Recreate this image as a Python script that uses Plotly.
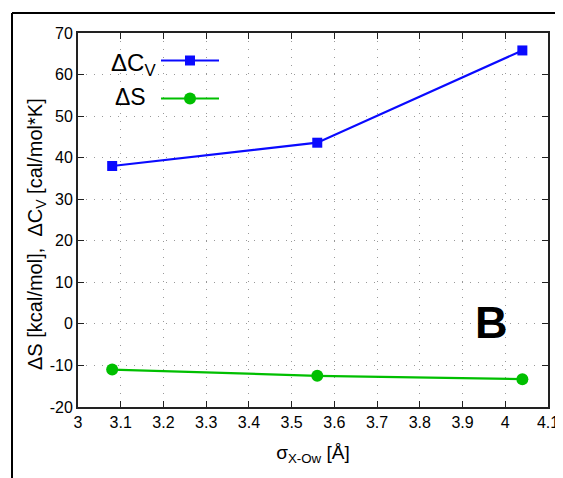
import plotly.graph_objects as go

sigma = [3.08, 3.56, 4.04]
dCv = [38.0, 43.6, 65.8]
dS = [-11.0, -12.5, -13.3]
x_ticks = [3, 3.1, 3.2, 3.3, 3.4, 3.5, 3.6, 3.7, 3.8, 3.9, 4, 4.1]
y_ticks = [-20, -10, 0, 10, 20, 30, 40, 50, 60, 70]

BLUE = "#0a0aff"
GREEN = "#00bf00"
FONT = "Liberation Sans, Arial, sans-serif"

# page offset caused by default body margin
OFF = 8
W, H = 555, 470
# plot area in page pixels: x 78..548, y 33..407
ML = 78 - OFF
MT = 33 - OFF
MR = W - (548 - OFF)
MB = H - (407 - OFF)
PW, PH = W - ML - MR, H - MT - MB

def px(x):
    return (x - OFF - ML) / PW

def py(y):
    return (H - MB - (y - OFF)) / PH

fig = go.Figure()
fig.add_trace(go.Scatter(x=sigma, y=dCv, mode="lines+markers", name="ΔCv",
                         line=dict(color=BLUE, width=2.2),
                         marker=dict(symbol="square", size=10, color=BLUE),
                         showlegend=False))
fig.add_trace(go.Scatter(x=sigma, y=dS, mode="lines+markers", name="ΔS",
                         line=dict(color=GREEN, width=2.2),
                         marker=dict(symbol="circle", size=12, color=GREEN),
                         showlegend=False))

axis_common = dict(
    showline=True, linecolor="#222", linewidth=1.8, mirror="ticks",
    ticks="inside", ticklen=6, tickcolor="#222", tickwidth=1,
    showgrid=True, gridcolor="#999999", griddash="1px,7px", gridwidth=1,
    zeroline=False, tickfont=dict(family=FONT, size=16, color="black"),
    automargin=False,
)

fig.update_xaxes(range=[3, 4.1], tickvals=x_ticks,
                 ticktext=[f"{v:g}" for v in x_ticks],
                 title=dict(text="σ<sub>X-Ow</sub> [Å]", font=dict(family=FONT, size=19, color="black"), standoff=16),
                 **axis_common)
fig.update_yaxes(range=[-20, 70], tickvals=y_ticks,
                 ticktext=[str(v) for v in y_ticks],
                 **axis_common)

shapes = []
# outer frame (left and top edges)
shapes.append(dict(type="line", xref="paper", yref="paper", x0=px(12), x1=px(12), y0=py(13), y1=py(H + 20),
                   line=dict(color="black", width=2)))
shapes.append(dict(type="line", xref="paper", yref="paper", x0=px(12), x1=px(W + 20), y0=py(13), y1=py(13),
                   line=dict(color="black", width=2)))
# legend samples
for yc, col, sym in [(60.5, BLUE, "rect"), (98.5, GREEN, "circle")]:
    shapes.append(dict(type="line", xref="paper", yref="paper", x0=px(161), x1=px(219), y0=py(yc), y1=py(yc),
                       line=dict(color=col, width=2.2)))
    r = 5 if sym == "rect" else 6
    shapes.append(dict(type=sym, xref="paper", yref="paper", x0=px(190 - r), x1=px(190 + r),
                       y0=py(yc + r), y1=py(yc - r), fillcolor=col, line=dict(color=col, width=0)))

annotations = [
    dict(text="ΔS [kcal/mol],  ΔC<sub>V</sub> [cal/mol*K]", xref="paper", yref="paper",
         x=px(37), y=py(234), xanchor="center", yanchor="middle", textangle=-90,
         showarrow=False, font=dict(family=FONT, size=20, color="black")),
    dict(text="ΔC<sub>V</sub>", xref="paper", yref="paper", x=px(158), y=py(64), xanchor="right", yanchor="middle",
         showarrow=False, font=dict(family=FONT, size=24, color="black")),
    dict(text="ΔS", xref="paper", yref="paper", x=px(148), y=py(97), xanchor="right", yanchor="middle",
         showarrow=False, font=dict(family=FONT, size=23, color="black")),
    dict(text="<b>B</b>", xref="paper", yref="paper", x=px(491), y=py(322), xanchor="center", yanchor="middle",
         showarrow=False, font=dict(family=FONT, size=45, color="black")),
]

fig.update_layout(width=W, height=H, margin=dict(l=ML, r=MR, t=MT, b=MB),
                  paper_bgcolor="white", plot_bgcolor="white",
                  shapes=shapes, annotations=annotations, showlegend=False)

fig.write_html("out.html")
